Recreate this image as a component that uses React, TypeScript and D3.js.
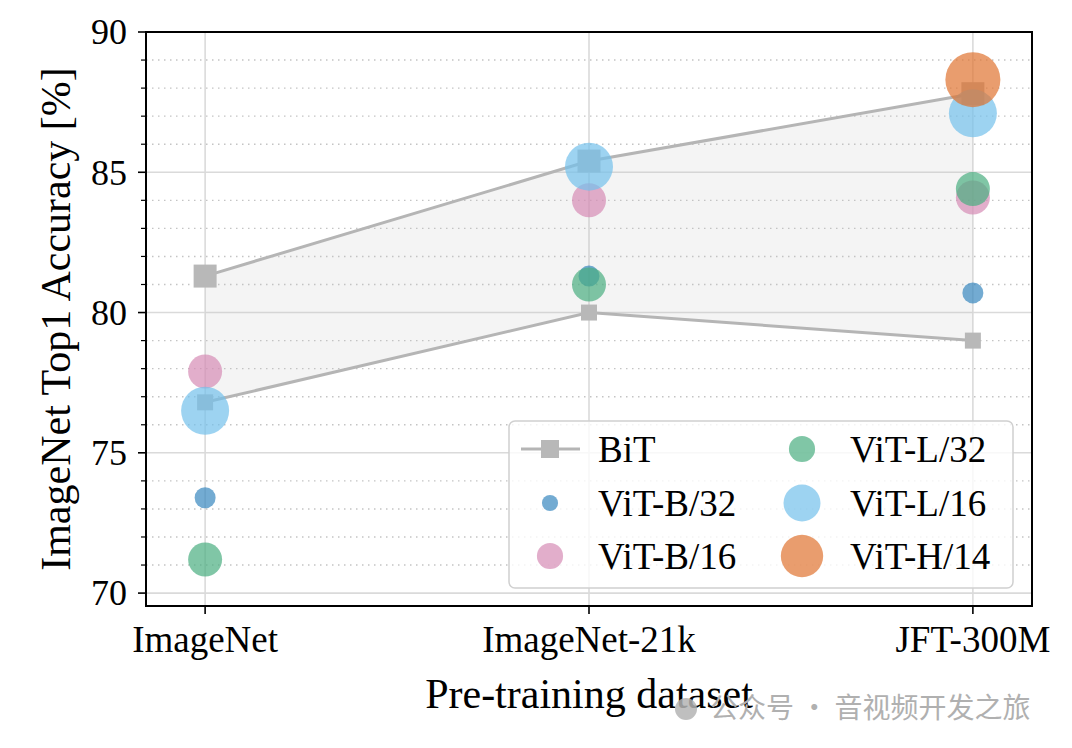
import React from 'react';
import { scaleLinear, line, area, range } from 'd3';

const datasets = ['ImageNet', 'ImageNet-21k', 'JFT-300M'];
const bitUpper = [81.3, 85.4, 87.8];
const bitLower = [76.8, 80.0, 79.0];

const models = ['ViT-B/32', 'ViT-B/16', 'ViT-L/32', 'ViT-L/16', 'ViT-H/14'];
const modelColors = ['#3788bf', '#d68bb5', '#4aae80', '#73c0eb', '#e07331'];
const modelRadius = [10.5, 17, 17, 24, 27.5];
const vitScores: (number | null)[][] = [
  [73.4, 81.3, 80.7],
  [77.9, 84.0, 84.1],
  [71.2, 81.0, 84.4],
  [76.5, 85.2, 87.1],
  [null, null, 88.3],
];

const yTicks = [70, 75, 80, 85, 90];
const yMinor = range(70, 91, 1).filter(v => v % 5 !== 0);

const W = 1072;
const H = 748;
const left = 146, right = 1032, top = 32, bottom = 606;

const App: React.FC = () => {
  const x = scaleLinear().domain([-0.154, 2.154]).range([left, right]);
  const y = scaleLinear().domain([69.54, 90]).range([bottom, top]);

  const idx = datasets.map((_, i) => i);
  const band = area<number>()
    .x(i => x(i))
    .y0(i => y(bitLower[i]))
    .y1(i => y(bitUpper[i]));
  const upperLine = line<number>().x(i => x(i)).y(i => y(bitUpper[i]));
  const lowerLine = line<number>().x(i => x(i)).y(i => y(bitLower[i]));

  const font = '"Liberation Serif", "Times New Roman", serif';
  const alpha = 0.7;

  // legend layout
  const lgX = 509, lgY = 421, lgW = 504, lgH = 167;
  const rowY = [449, 503, 556];
  const legendItems = ['BiT', ...models];

  return (
    <svg width={W} height={H} style={{ position: 'absolute', left: 0, top: 0 }} fontFamily={font}>
      <rect width={W} height={H} fill="#fff" />
      <clipPath id="plot">
        <rect x={left} y={top} width={right - left} height={bottom - top} />
      </clipPath>

      {/* grid */}
      <g clipPath="url(#plot)">
        {yMinor.map(v => (
          <line key={'mn' + v} x1={left} x2={right} y1={y(v)} y2={y(v)}
            stroke="#c4c4c4" strokeWidth={1.4} strokeDasharray="1.5,4.5" />
        ))}
        {yTicks.map(v => (
          <line key={'mj' + v} x1={left} x2={right} y1={y(v)} y2={y(v)}
            stroke="#dadada" strokeWidth={1.6} />
        ))}
        {idx.map(i => (
          <line key={'vx' + i} x1={x(i)} x2={x(i)} y1={top} y2={bottom}
            stroke="#dadada" strokeWidth={1.6} />
        ))}

        {/* BiT band */}
        <path d={band(idx) || ''} fill="#bdbdbd" fillOpacity={0.17} />
        <path d={upperLine(idx) || ''} fill="none" stroke="#b5b5b5" strokeWidth={3} />
        <path d={lowerLine(idx) || ''} fill="none" stroke="#b5b5b5" strokeWidth={3} />
        {idx.map(i => (
          <rect key={'bu' + i} x={x(i) - 11.5} y={y(bitUpper[i]) - 11.5} width={23} height={23}
            fill="#b8b8b8" />
        ))}
        {idx.map(i => (
          <rect key={'bl' + i} x={x(i) - 8} y={y(bitLower[i]) - 8} width={16} height={16}
            fill="#b8b8b8" />
        ))}

        {/* ViT scatter */}
        {models.map((m, k) => (
          <g key={m}>
            {vitScores[k].map((v, i) => v === null ? null : (
              <circle key={i} cx={x(i)} cy={y(v)} r={modelRadius[k]}
                fill={modelColors[k]} fillOpacity={alpha} />
            ))}
          </g>
        ))}
      </g>

      {/* frame */}
      <rect x={left} y={top} width={right - left} height={bottom - top}
        fill="none" stroke="#000" strokeWidth={2} />

      {/* y axis */}
      {yTicks.map(v => (
        <g key={'yt' + v}>
          <line x1={left - 8} x2={left} y1={y(v)} y2={y(v)} stroke="#000" strokeWidth={1.6} />
          <text x={left - 19} y={y(v)} dy="0.34em" textAnchor="end" fontSize={36}>{v}</text>
        </g>
      ))}
      {yMinor.map(v => (
        <line key={'ym' + v} x1={left - 5} x2={left} y1={y(v)} y2={y(v)} stroke="#000" strokeWidth={1.2} />
      ))}
      <text transform={`translate(70,${(top + bottom) / 2}) rotate(-90)`} textAnchor="middle" fontSize={42}>
        ImageNet Top1 Accuracy [%]
      </text>

      {/* x axis */}
      {datasets.map((d, i) => (
        <g key={d}>
          <line x1={x(i)} x2={x(i)} y1={bottom} y2={bottom + 8} stroke="#000" strokeWidth={1.6} />
          <text x={x(i)} y={652} textAnchor="middle" fontSize={37}>{d}</text>
        </g>
      ))}
      <text x={(left + right) / 2} y={708} textAnchor="middle" fontSize={42}>Pre-training dataset</text>

      {/* legend */}
      <rect x={lgX} y={lgY} width={lgW} height={lgH} rx={6} fill="#fff" fillOpacity={0.8}
        stroke="#d0d0d0" strokeWidth={1.5} />
      {legendItems.map((name, j) => {
        const col = Math.floor(j / 3);
        const row = j % 3;
        const mx = col === 0 ? 550 : 802;
        const tx = col === 0 ? 598 : 850;
        const cy = rowY[row];
        const k = j - 1;
        return (
          <g key={name}>
            {j === 0 ? (
              <g>
                <line x1={521} x2={580} y1={cy} y2={cy} stroke="#b5b5b5" strokeWidth={3} />
                <rect x={mx - 9} y={cy - 9} width={18} height={18} fill="#b8b8b8" />
              </g>
            ) : (
              <circle cx={mx} cy={cy} r={modelRadius[k] * 0.77} fill={modelColors[k]} fillOpacity={alpha} />
            )}
            <text x={tx} y={cy} dy="0.35em" fontSize={37}>{name}</text>
          </g>
        );
      })}

      {/* watermark */}
      <circle cx={686} cy={709} r={11} fill="#b4b4b4" fillOpacity={0.85} />
      <text x={710} y={718} fontSize={28} fill="#b0b0b0" fontFamily='"Noto Sans CJK SC", sans-serif'>
        公众号 · 音视频开发之旅
      </text>
    </svg>
  );
};

export default App;
